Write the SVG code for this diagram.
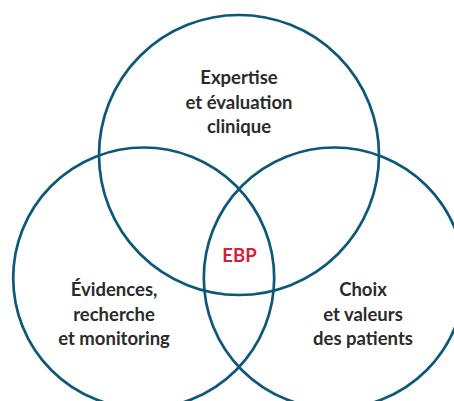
<svg xmlns="http://www.w3.org/2000/svg" width="454" height="401" viewBox="0 0 454 401">
  <style>
    .ring { fill: none; stroke: #0c5878; stroke-width: 2.7; }
    .lbl { font-family: Lato, "Liberation Sans", sans-serif; font-weight: 700; font-size: 18.5px; fill: #2b2b2b; text-anchor: middle; }
    .core { font-family: Lato, "Liberation Sans", sans-serif; font-weight: 700; font-size: 18.5px; fill: #d42039; text-anchor: middle; }
  </style>
  <rect width="454" height="401" fill="#ffffff"/>

  <!-- three overlapping circles -->
  <g id="connectors"></g>

  <g id="expertise">
    <circle class="ring" cx="239" cy="155" r="140"/>
    <text class="lbl" x="239" y="84">Expertise</text>
    <text class="lbl" x="239" y="109">et évaluation</text>
    <text class="lbl" x="239" y="133">clinique</text>
  </g>

  <g id="evidences">
    <circle class="ring" cx="143.7" cy="278" r="130.5"/>
    <text class="lbl" x="114" y="296">Évidences,</text>
    <text class="lbl" x="114" y="321">recherche</text>
    <text class="lbl" x="114" y="345">et monitoring</text>
  </g>

  <g id="patients">
    <circle class="ring" cx="334.3" cy="278" r="130.5"/>
    <text class="lbl" x="363" y="296">Choix</text>
    <text class="lbl" x="363" y="321">et valeurs</text>
    <text class="lbl" x="363" y="345">des patients</text>
  </g>

  <g id="ebp">
    <text class="core" x="239.5" y="262">EBP</text>
  </g>
</svg>
